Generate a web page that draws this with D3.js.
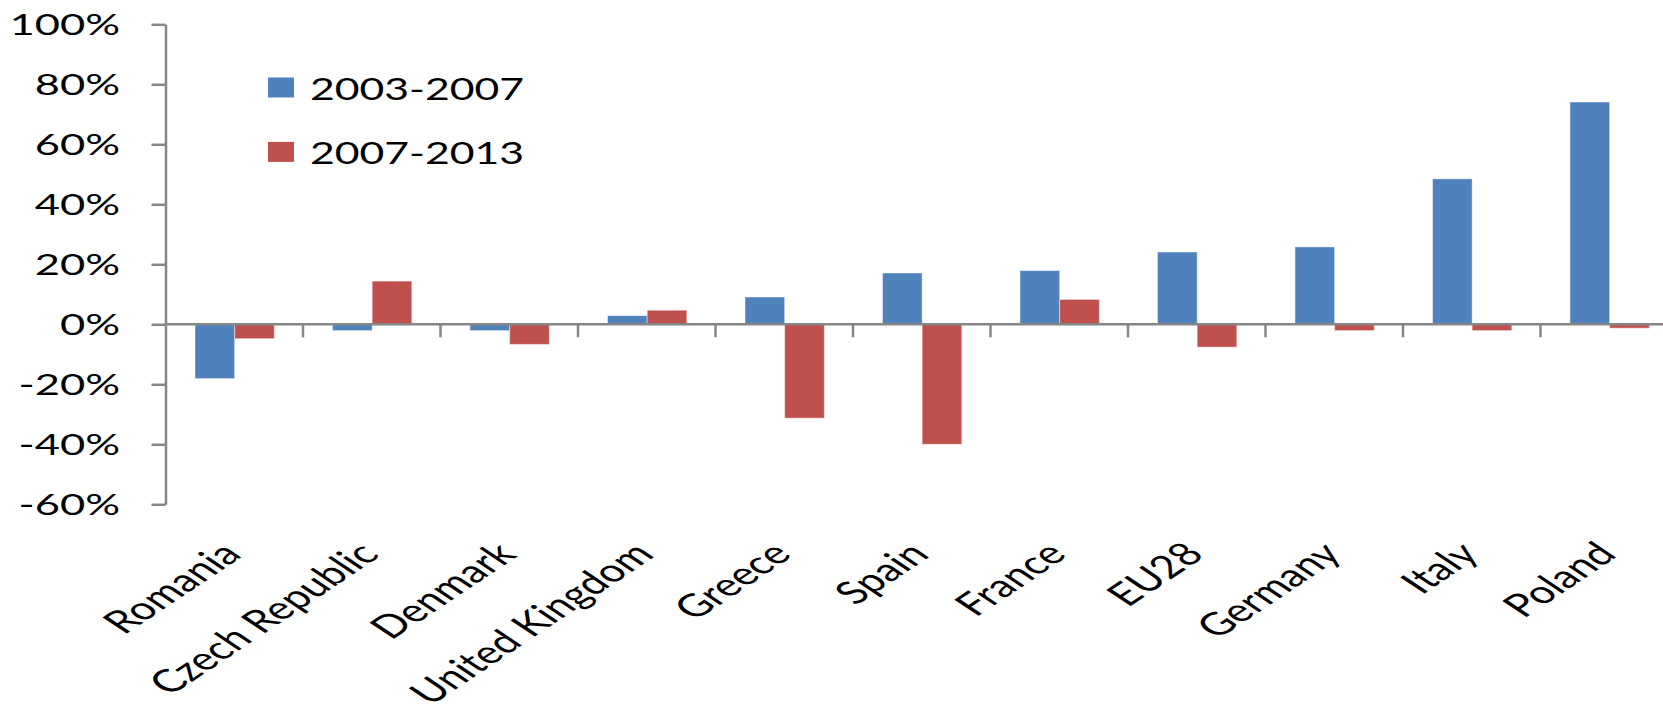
<!DOCTYPE html>
<html>
<head>
<meta charset="utf-8">
<script src="https://cdn.jsdelivr.net/npm/d3@7/dist/d3.min.js"></script>
<style>
  html, body { margin: 0; padding: 0; background: #fff; }
  svg { display: block; }
  text { font-family: Lato, "Open Sans", "Noto Sans", sans-serif; fill: #000; }
</style>
</head>
<body>
<svg id="chart" width="1663" height="712"></svg>
<script>
const categories = ["Romania", "Czech Republic", "Denmark", "United Kingdom", "Greece", "Spain", "France", "EU28", "Germany", "Italy", "Poland"];
const seriesNames = ["2003-2007", "2007-2013"];
const values2003_2007 = [-18.1, -2.1, -2.1, 2.9, 9.1, 17.1, 17.9, 24.1, 25.8, 48.5, 74.1];
const values2007_2013 = [-4.8, 14.4, -6.7, 4.7, -31.3, -40.0, 8.3, -7.6, -2.1, -2.1, -1.3];
const yTicks = [-60, -40, -20, 0, 20, 40, 60, 80, 100];
const colors = ["#4F81BD", "#C0504D"];

const W = 1663, H = 712;
const stretch = 1.5;
const axisColor = "#868686";

const svg = d3.select("#chart");
svg.append("rect").attr("width", W).attr("height", H).attr("fill", "#fff");

const x0 = d3.scaleBand().domain(categories).range([165.5, 1678]).padding(0);
const x1 = d3.scaleBand().domain(seriesNames).range([29.5, 108.8]).padding(0);
const y = d3.scaleLinear().domain([-60, 100]).range([504.3, 24.3]);

const rows = categories.map((c, i) => ({
  cat: c,
  vals: [
    { s: seriesNames[0], v: values2003_2007[i], c: colors[0] },
    { s: seriesNames[1], v: values2007_2013[i], c: colors[1] }
  ]
}));

// bars
const groups = svg.append("g").selectAll("g").data(rows).join("g")
  .attr("transform", d => `translate(${x0(d.cat)},0)`);
groups.selectAll("rect").data(d => d.vals).join("rect")
  .attr("x", d => x1(d.s))
  .attr("width", x1.bandwidth())
  .attr("y", d => y(Math.max(0, d.v)))
  .attr("height", d => Math.abs(y(d.v) - y(0)))
  .attr("fill", d => d.c)
  .attr("stroke", "rgba(255,255,255,0.45)")
  .attr("stroke-width", 1);

// y axis
const yAxis = svg.append("g").attr("transform", `translate(${x0.range()[0]},0)`)
  .call(d3.axisLeft(y).tickValues(yTicks).tickSize(14).tickSizeOuter(0).tickFormat(""));
yAxis.select(".domain").attr("stroke", axisColor).attr("stroke-width", 2.5);
yAxis.selectAll(".tick line").attr("stroke", axisColor).attr("stroke-width", 2.5);

svg.append("g").selectAll("text").data(yTicks).join("text")
  .attr("transform", d => `translate(120,${y(d) + 11}) scale(${stretch},1)`)
  .attr("text-anchor", "end")
  .attr("font-size", 29)
  .text(d => d + "%");

// category axis at zero
svg.append("line")
  .attr("x1", x0.range()[0]).attr("x2", W)
  .attr("y1", y(0)).attr("y2", y(0))
  .attr("stroke", axisColor).attr("stroke-width", 2.5);
svg.append("g").selectAll("line").data(categories.slice(1)).join("line")
  .attr("x1", d => x0(d)).attr("x2", d => x0(d))
  .attr("y1", y(0)).attr("y2", y(0) + 13)
  .attr("stroke", axisColor).attr("stroke-width", 2.5);

// category labels
svg.append("g").selectAll("text").data(categories).join("text")
  .attr("transform", d => `translate(${x0(d) + x0.bandwidth() / 2 + 9},556) scale(${stretch},1) rotate(-45) scale(0.93,1)`)
  .attr("text-anchor", "end")
  .attr("font-size", 32)
  .text(d => d);

// legend
const legend = svg.append("g").selectAll("g").data(seriesNames).join("g")
  .attr("transform", (d, i) => `translate(0,${i * 64.4})`);
legend.append("rect")
  .attr("x", 268).attr("y", 77.5).attr("width", 26).attr("height", 20)
  .attr("fill", (d, i) => colors[i]);
legend.append("text")
  .attr("transform", `translate(310,100) scale(${stretch * 0.95},1)`)
  .attr("font-size", 30)
  .text(d => d);
</script>
</body>
</html>
